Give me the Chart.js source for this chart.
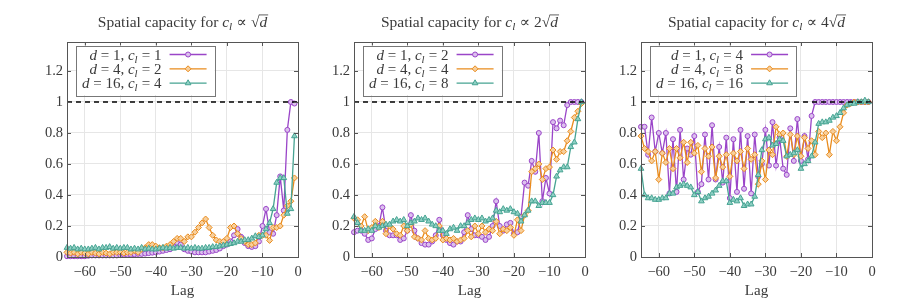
<!DOCTYPE html>
<html><head><meta charset="utf-8">
<script src="https://cdn.jsdelivr.net/npm/chart.js@4.4.1/dist/chart.umd.min.js"></script>
<style>
html,body{margin:0;padding:0;background:#fff;width:897px;height:302px;overflow:hidden}
.p{position:absolute;top:0;width:310px;height:302px}
</style></head><body>
<div class="p" style="left:0px"><canvas id="c1" width="310" height="302"></canvas></div>
<div class="p" style="left:287px"><canvas id="c2" width="310" height="302"></canvas></div>
<div class="p" style="left:574px"><canvas id="c3" width="310" height="302"></canvas></div>
<script>
// ---------- data ----------
const lags = [-65,-64,-63,-62,-61,-60,-59,-58,-57,-56,-55,-54,-53,-52,-51,-50,-49,-48,-47,-46,-45,-44,-43,-42,-41,-40,-39,-38,-37,-36,-35,-34,-33,-32,-31,-30,-29,-28,-27,-26,-25,-24,-23,-22,-21,-20,-19,-18,-17,-16,-15,-14,-13,-12,-11,-10,-9,-8,-7,-6,-5,-4,-3,-2,-1];
const xTickValues = [-60,-50,-40,-30,-20,-10,0];
const yTickValues = [0,0.2,0.4,0.6,0.8,1,1.2];
const refLine = [1,1];

// panel 1: c_l ∝ sqrt(d)
const p1_d1 = [0.005,0.005,0.005,0.005,0.005,0.005,0.008,0.01,0.01,0.01,0.01,0.01,0.01,0.01,0.01,0.012,0.015,0.015,0.015,0.018,0.02,0.02,0.022,0.025,0.028,0.03,0.035,0.04,0.045,0.05,0.065,0.09,0.08,0.05,0.04,0.035,0.03,0.03,0.03,0.03,0.035,0.04,0.045,0.055,0.07,0.08,0.1,0.14,0.18,0.13,0.09,0.07,0.065,0.07,0.1,0.2,0.31,0.16,0.15,0.27,0.52,0.3,0.82,1.0,0.99];
const p1_d4 = [0.03,0.025,0.03,0.02,0.03,0.025,0.02,0.03,0.025,0.02,0.03,0.025,0.02,0.03,0.03,0.03,0.025,0.03,0.03,0.04,0.03,0.05,0.06,0.08,0.08,0.07,0.06,0.06,0.07,0.08,0.1,0.12,0.12,0.1,0.13,0.13,0.16,0.19,0.22,0.245,0.19,0.14,0.11,0.1,0.1,0.12,0.19,0.2,0.15,0.12,0.1,0.08,0.08,0.09,0.14,0.14,0.14,0.107,0.19,0.19,0.2,0.27,0.33,0.36,0.51];
const p1_d16 = [0.06,0.055,0.06,0.05,0.055,0.05,0.05,0.055,0.06,0.05,0.06,0.06,0.065,0.055,0.06,0.055,0.06,0.06,0.05,0.055,0.05,0.06,0.05,0.055,0.05,0.05,0.055,0.06,0.055,0.06,0.055,0.06,0.06,0.055,0.06,0.055,0.06,0.055,0.055,0.06,0.06,0.065,0.065,0.07,0.075,0.08,0.085,0.09,0.1,0.1,0.11,0.11,0.12,0.135,0.13,0.14,0.18,0.22,0.31,0.48,0.51,0.51,0.28,0.31,0.78];

// panel 2: c_l ∝ 2 sqrt(d)
const p2_d1 = [0.16,0.17,0.17,0.15,0.11,0.12,0.18,0.2,0.32,0.17,0.14,0.14,0.14,0.11,0.12,0.17,0.27,0.17,0.12,0.09,0.08,0.08,0.1,0.14,0.24,0.14,0.11,0.09,0.08,0.1,0.1,0.16,0.27,0.18,0.14,0.14,0.13,0.11,0.13,0.2,0.36,0.2,0.17,0.21,0.22,0.15,0.16,0.26,0.48,0.46,0.62,0.55,0.8,0.36,0.51,0.41,0.87,0.83,0.88,0.85,0.98,1.0,1.0,1.0,1.0];
const p2_d4 = [0.25,0.24,0.2,0.26,0.17,0.19,0.23,0.19,0.23,0.15,0.2,0.18,0.15,0.14,0.2,0.17,0.21,0.13,0.12,0.11,0.17,0.12,0.11,0.12,0.2,0.11,0.12,0.11,0.12,0.1,0.11,0.12,0.17,0.13,0.2,0.15,0.2,0.16,0.18,0.17,0.23,0.15,0.18,0.17,0.19,0.14,0.24,0.17,0.27,0.3,0.55,0.57,0.6,0.5,0.57,0.58,0.69,0.63,0.68,0.68,0.75,0.81,0.9,0.94,0.99];
const p2_d16 = [0.26,0.22,0.17,0.17,0.18,0.17,0.2,0.19,0.2,0.21,0.21,0.23,0.24,0.23,0.24,0.2,0.22,0.23,0.25,0.24,0.25,0.23,0.21,0.2,0.17,0.17,0.15,0.18,0.19,0.17,0.2,0.2,0.22,0.24,0.25,0.24,0.25,0.23,0.24,0.25,0.3,0.29,0.31,0.3,0.31,0.29,0.28,0.23,0.27,0.3,0.36,0.36,0.33,0.35,0.35,0.35,0.4,0.52,0.56,0.58,0.58,0.71,0.74,0.89,1.0];

// panel 3: c_l ∝ 4 sqrt(d)
const p3_d1 = [0.84,0.84,0.66,0.9,0.68,0.8,0.67,0.8,0.41,0.76,0.42,0.82,0.5,0.7,0.66,0.78,0.42,0.47,0.79,0.5,0.85,0.5,0.71,0.48,0.77,0.38,0.76,0.42,0.82,0.44,0.78,0.41,0.79,0.52,0.6,0.82,0.59,0.87,0.59,0.77,0.57,0.53,0.83,0.62,0.89,0.62,0.78,0.63,0.91,1.0,1.0,1.0,1.0,1.0,1.0,1.0,1.0,1.0,1.0,1.0,1.0,1.0,1.0,1.0,1.0];
const p3_d4 = [0.78,0.7,0.68,0.62,0.68,0.5,0.67,0.61,0.7,0.57,0.7,0.64,0.74,0.61,0.74,0.67,0.72,0.55,0.7,0.65,0.71,0.51,0.65,0.58,0.66,0.52,0.67,0.62,0.68,0.57,0.7,0.63,0.66,0.47,0.62,0.5,0.69,0.66,0.84,0.79,0.8,0.65,0.79,0.66,0.78,0.65,0.77,0.7,0.75,0.66,0.81,0.77,0.8,0.66,0.81,0.75,0.84,0.93,0.98,0.99,1.0,1.0,1.0,1.0,1.0];
const p3_d16 = [0.57,0.4,0.38,0.38,0.37,0.37,0.38,0.38,0.41,0.41,0.45,0.46,0.47,0.46,0.45,0.4,0.42,0.36,0.38,0.39,0.41,0.43,0.46,0.49,0.49,0.35,0.37,0.36,0.38,0.33,0.34,0.34,0.39,0.53,0.69,0.76,0.77,0.72,0.73,0.76,0.75,0.65,0.66,0.67,0.69,0.57,0.6,0.62,0.65,0.74,0.86,0.87,0.87,0.88,0.9,0.91,0.93,0.96,0.98,0.99,0.99,1.0,1.0,1.01,1.0];

const titlePrefix = ['', '2', '4'];
const legendD = [1, 4, 16];
const legendC = [[1,2,4],[2,4,8],[4,8,16]];
const panels = [[p1_d1,p1_d4,p1_d16],[p2_d1,p2_d4,p2_d16],[p3_d1,p3_d4,p3_d16]];

// ---------- styles ----------
const FONT = '"Liberation Serif", "DejaVu Serif", serif';
const TXT = '#3a3a3a';
const TITLE_SIZE = 15.5, LEG_SIZE = 15, TICK_SIZE = 14.5;
const seriesStyle = [
  {line:'#9a45c8', fill:'#dcc0ee', style:'circle', r:2.5},
  {line:'#e98b1c', fill:'#f7cf9c', style:'rectRot', r:3.0},
  {line:'#46a392', fill:'#8fd0c4', style:'triangle', r:3.3}
];

function richWidth(ctx, segs, size){
  let w = 0;
  for (const s of segs){
    ctx.font = (s.it?'italic ':'') + (s.sub? size*0.72 : size) + 'px ' + FONT;
    w += ctx.measureText(s.t).width + (s.sub?0.5:0);
  }
  return w;
}
function drawRich(ctx, segs, x, y, size, align){
  const w = richWidth(ctx, segs, size);
  let cx = align==='right' ? x - w : (align==='center' ? x - w/2 : x);
  ctx.textBaseline = 'alphabetic';
  ctx.textAlign = 'left';
  ctx.fillStyle = TXT;
  for (const s of segs){
    ctx.font = (s.it?'italic ':'') + (s.sub? size*0.72 : size) + 'px ' + FONT;
    const tw = ctx.measureText(s.t).width;
    ctx.fillText(s.t, cx, y + (s.sub? size*0.22 : 0));
    if (s.over){
      ctx.save(); ctx.strokeStyle = TXT; ctx.lineWidth = 0.8;
      ctx.beginPath(); ctx.moveTo(cx-0.5, y - size*0.78); ctx.lineTo(cx+tw+1, y - size*0.78); ctx.stroke();
      ctx.restore();
    }
    cx += tw + (s.sub?0.5:0);
  }
}
function drawMarker(ctx, st, x, y){
  ctx.save();
  ctx.fillStyle = st.fill; ctx.strokeStyle = st.line; ctx.lineWidth = 1;
  Chart.helpers.drawPoint(ctx, {pointStyle: st.style, radius: st.r, rotation: 0, borderWidth: 1}, x, y);
  ctx.restore();
}

const decor = {
  id:'decor',
  afterDatasetsDraw(chart, args, opts){
    const ctx = chart.ctx;
    const a = chart.chartArea;
    const xs = chart.scales.x, ys = chart.scales.y;
    ctx.save();
    // frame
    ctx.strokeStyle = '#555'; ctx.lineWidth = 1;
    ctx.strokeRect(Math.round(a.left)+0.5, Math.round(a.top)+0.5, Math.round(a.right-a.left), Math.round(a.bottom-a.top));
    // mirrored inward ticks
    ctx.beginPath();
    for (const v of xTickValues){
      const px = Math.round(xs.getPixelForValue(v))+0.5;
      ctx.moveTo(px, a.bottom); ctx.lineTo(px, a.bottom-4);
      ctx.moveTo(px, a.top); ctx.lineTo(px, a.top+4);
    }
    for (const v of yTickValues){
      const py = Math.round(ys.getPixelForValue(v))+0.5;
      ctx.moveTo(a.left, py); ctx.lineTo(a.left+4, py);
      ctx.moveTo(a.right, py); ctx.lineTo(a.right-4, py);
    }
    ctx.stroke();
    // title
    const k = opts.k;
    const tsegs = [{t:'Spatial capacity for '},{t:'c',it:true},{t:'l',it:true,sub:true},{t:' \u221D '+titlePrefix[k]},{t:'\u221A'},{t:'d',it:true,over:true}];
    drawRich(ctx, tsegs, (a.left+a.right)/2, 27, TITLE_SIZE, 'center');
    // legend
    const rows = legendD.map((d,i)=>[{t:'d',it:true},{t:' = '+d+', '},{t:'c',it:true},{t:'l',it:true,sub:true},{t:' = '+legendC[k][i]}]);
    let maxW = 0;
    rows.forEach(r=>{maxW=Math.max(maxW, richWidth(ctx,r,LEG_SIZE));});
    const bx = a.left + 9, by = a.top + 3.5;
    const textRight = bx + 6 + maxW;
    const lx0 = textRight + 8, lx1 = lx0 + 37;
    const bw = lx1 + 8 - bx, bh = 49.5;
    ctx.fillStyle = '#fff';
    ctx.fillRect(bx, by, bw, bh);
    ctx.strokeStyle = '#777'; ctx.lineWidth = 1;
    ctx.strokeRect(Math.round(bx)+0.5, Math.round(by)+0.5, Math.round(bw), Math.round(bh));
    rows.forEach((r,i)=>{
      const cy = by + 9 + i*14.3;
      drawRich(ctx, r, textRight, cy+5, LEG_SIZE, 'right');
      const st = seriesStyle[i];
      ctx.strokeStyle = st.line; ctx.lineWidth = 1.3;
      ctx.beginPath(); ctx.moveTo(lx0, cy); ctx.lineTo(lx1, cy); ctx.stroke();
      drawMarker(ctx, st, (lx0+lx1)/2, cy);
    });
    ctx.restore();
  }
};

function fmtX(v){ return v===0 ? '0' : '\u2212' + Math.abs(v); }
function fmtY(v){ return String(v); }

function makeChart(id, k){
  const series = panels[k];
  const datasets = series.map((vals,i)=>{
    const st = seriesStyle[i];
    return {
      data: lags.map((x,j)=>({x:x, y:vals[j]})),
      borderColor: st.line, backgroundColor: st.fill,
      pointBorderColor: st.line, pointBackgroundColor: st.fill,
      pointStyle: st.style, pointRadius: st.r, pointBorderWidth: 1,
      borderWidth: 1.3, tension: 0, clip: false, order: 3 - i
    };
  });
  datasets.unshift({
    data: [{x:-65,y:refLine[0]},{x:0,y:refLine[1]}],
    borderColor:'#000', borderWidth:1.3, borderDash:[5,4], pointRadius:0, order:0
  });
  new Chart(document.getElementById(id), {
    type:'line',
    data:{datasets},
    plugins:[decor],
    options:{
      animation:false, responsive:false, devicePixelRatio:1,
      layout:{padding:{left:0,right:12,top:42,bottom:0}},
      plugins:{legend:{display:false}, tooltip:{enabled:false}, title:{display:false}, decor:{k}},
      scales:{
        x:{type:'linear', min:-65, max:0,
          afterBuildTicks:s=>{ s.ticks = xTickValues.map(v=>({value:v})); },
          afterFit:s=>{ s.height = 45; },
          grid:{color:'#e6e6e6', drawTicks:false, lineWidth:1},
          border:{display:false},
          ticks:{padding:6, color:TXT, font:{family:FONT, size:TICK_SIZE}, maxRotation:0, autoSkip:false, callback:v=>fmtX(v)},
          title:{display:true, text:'Lag', color:TXT, font:{family:FONT, size:TICK_SIZE+0.5}, padding:{top:0,bottom:2}}
        },
        y:{type:'linear', min:0, max:1.387,
          afterBuildTicks:s=>{ s.ticks = yTickValues.map(v=>({value:v})); },
          afterFit:s=>{ s.width = 67; },
          grid:{color:'#e6e6e6', drawTicks:false, lineWidth:1},
          border:{display:false},
          ticks:{padding:4, color:TXT, font:{family:FONT, size:TICK_SIZE}, callback:v=>fmtY(v)}
        }
      }
    }
  });
}
makeChart('c1',0); makeChart('c2',1); makeChart('c3',2);
</script>
</body></html>
